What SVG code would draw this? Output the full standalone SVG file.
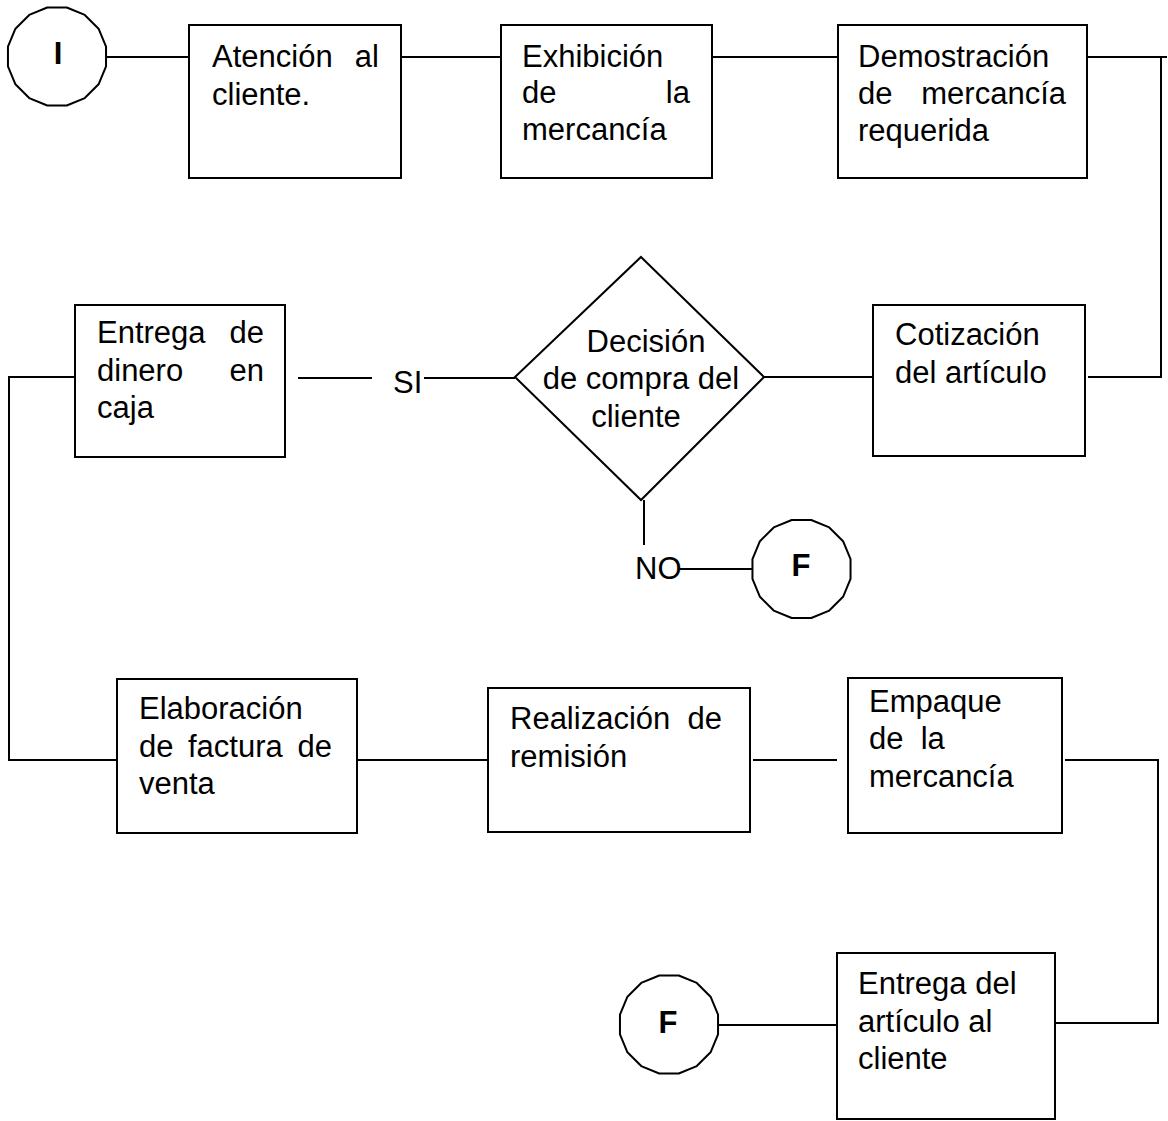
<svg xmlns="http://www.w3.org/2000/svg" width="1168" height="1121" viewBox="0 0 1168 1121">
  <style>
    .box { fill: #ffffff; stroke: #000000; stroke-width: 2; }
    .term { fill: #ffffff; stroke: #000000; stroke-width: 2; stroke-linejoin: round; }
    .link { fill: none; stroke: #000000; stroke-width: 2; }
    .t { font-family: "Liberation Sans", Arial, sans-serif; font-size: 31px; fill: #000000; }
    .b { font-family: "Liberation Sans", Arial, sans-serif; font-size: 31px; font-weight: bold; fill: #000000; text-anchor: middle; }
    .end { text-anchor: end; }
    .mid { text-anchor: middle; }
  </style>
  <defs>
    <!-- 16-sided terminator shape, centred on the origin -->
    <polygon id="terminator" class="term" points="49.04,9.76 41.57,27.78 27.78,41.57 9.76,49.04 -9.76,49.04 -27.78,41.57 -41.57,27.78 -49.04,9.76 -49.04,-9.76 -41.57,-27.78 -27.78,-41.57 -9.76,-49.04 9.76,-49.04 27.78,-41.57 41.57,-27.78 49.04,-9.76"/>
  </defs>
  <rect width="1168" height="1121" fill="#ffffff"/>

  <!-- connectors -->
  <g id="connectors" class="link">
    <line x1="106" y1="57" x2="189" y2="57"/>
    <line x1="401" y1="57" x2="501" y2="57"/>
    <line x1="712" y1="57" x2="838" y2="57"/>
    <line x1="1087" y1="57" x2="1167" y2="57"/>
    <polyline points="1161,57 1161,377 1088,377"/>
    <line x1="873" y1="377" x2="764" y2="377"/>
    <line x1="515" y1="378" x2="424" y2="378"/>
    <line x1="372" y1="378" x2="298" y2="378"/>
    <line x1="644" y1="500" x2="644" y2="545"/>
    <line x1="678" y1="569" x2="753" y2="569"/>
    <polyline points="75,377 9,377 9,760 117,760"/>
    <line x1="357" y1="760" x2="488" y2="760"/>
    <line x1="753" y1="760" x2="837" y2="760"/>
    <polyline points="1065,760 1158,760 1158,1023 1055,1023"/>
    <line x1="837" y1="1025" x2="717" y2="1025"/>
  </g>

  <!-- start -->
  <g id="start">
    <use href="#terminator" x="57" y="56.5"/>
    <text class="b" x="58" y="64">I</text>
  </g>

  <g id="atencion">
    <rect class="box" x="189" y="25" width="212" height="153"/>
    <text class="t" x="212" y="67">Atención</text>
    <text class="t end" x="379" y="67">al</text>
    <text class="t" x="212" y="105">cliente.</text>
  </g>

  <g id="exhibicion">
    <rect class="box" x="501" y="25" width="211" height="153"/>
    <text class="t" x="522" y="67">Exhibición</text>
    <text class="t" x="522" y="103">de</text>
    <text class="t end" x="690" y="103">la</text>
    <text class="t" x="522" y="140">mercancía</text>
  </g>

  <g id="demostracion">
    <rect class="box" x="838" y="25" width="249" height="153"/>
    <text class="t" x="858" y="67">Demostración</text>
    <text class="t" x="858" y="104">de</text>
    <text class="t end" x="1066" y="104">mercancía</text>
    <text class="t" x="858" y="141">requerida</text>
  </g>

  <g id="cotizacion">
    <rect class="box" x="873" y="305" width="212" height="151"/>
    <text class="t" x="895" y="345">Cotización</text>
    <text class="t" x="895" y="383">del artículo</text>
  </g>

  <g id="decision">
    <polygon class="box" points="641,257 764,377 641,500 515,377"/>
    <text class="t mid" x="646" y="352">Decisión</text>
    <text class="t mid" x="641" y="389">de compra del</text>
    <text class="t mid" x="636" y="427">cliente</text>
  </g>

  <g id="label-si">
    <text class="t" x="393" y="393">SI</text>
  </g>

  <g id="label-no">
    <text class="t" x="635" y="579">NO</text>
  </g>

  <g id="end-no">
    <use href="#terminator" x="801.5" y="569"/>
    <text class="b" x="801" y="576">F</text>
  </g>

  <g id="entrega-dinero">
    <rect class="box" x="75" y="305" width="210" height="152"/>
    <text class="t" x="97" y="343">Entrega</text>
    <text class="t end" x="264" y="343">de</text>
    <text class="t" x="97" y="381">dinero</text>
    <text class="t end" x="264" y="381">en</text>
    <text class="t" x="97" y="418">caja</text>
  </g>

  <g id="elaboracion">
    <rect class="box" x="117" y="679" width="240" height="154"/>
    <text class="t" x="139" y="719">Elaboración</text>
    <text class="t" x="139" y="757">de</text>
    <text class="t" x="188" y="757">factura</text>
    <text class="t end" x="332" y="757">de</text>
    <text class="t" x="139" y="794">venta</text>
  </g>

  <g id="realizacion">
    <rect class="box" x="488" y="688" width="262" height="144"/>
    <text class="t" x="510" y="729">Realización</text>
    <text class="t end" x="722" y="729">de</text>
    <text class="t" x="510" y="767">remisión</text>
  </g>

  <g id="empaque">
    <rect class="box" x="848" y="678" width="214" height="155"/>
    <text class="t" x="869" y="712">Empaque</text>
    <text class="t" x="869" y="749" xml:space="preserve">de  la</text>
    <text class="t" x="869" y="787">mercancía</text>
  </g>

  <g id="entrega-articulo">
    <rect class="box" x="837" y="953" width="218" height="166"/>
    <text class="t" x="858" y="994">Entrega del</text>
    <text class="t" x="858" y="1032">artículo al</text>
    <text class="t" x="858" y="1069">cliente</text>
  </g>

  <g id="end-main">
    <use href="#terminator" x="669" y="1024.5"/>
    <text class="b" x="668" y="1033">F</text>
  </g>
</svg>
